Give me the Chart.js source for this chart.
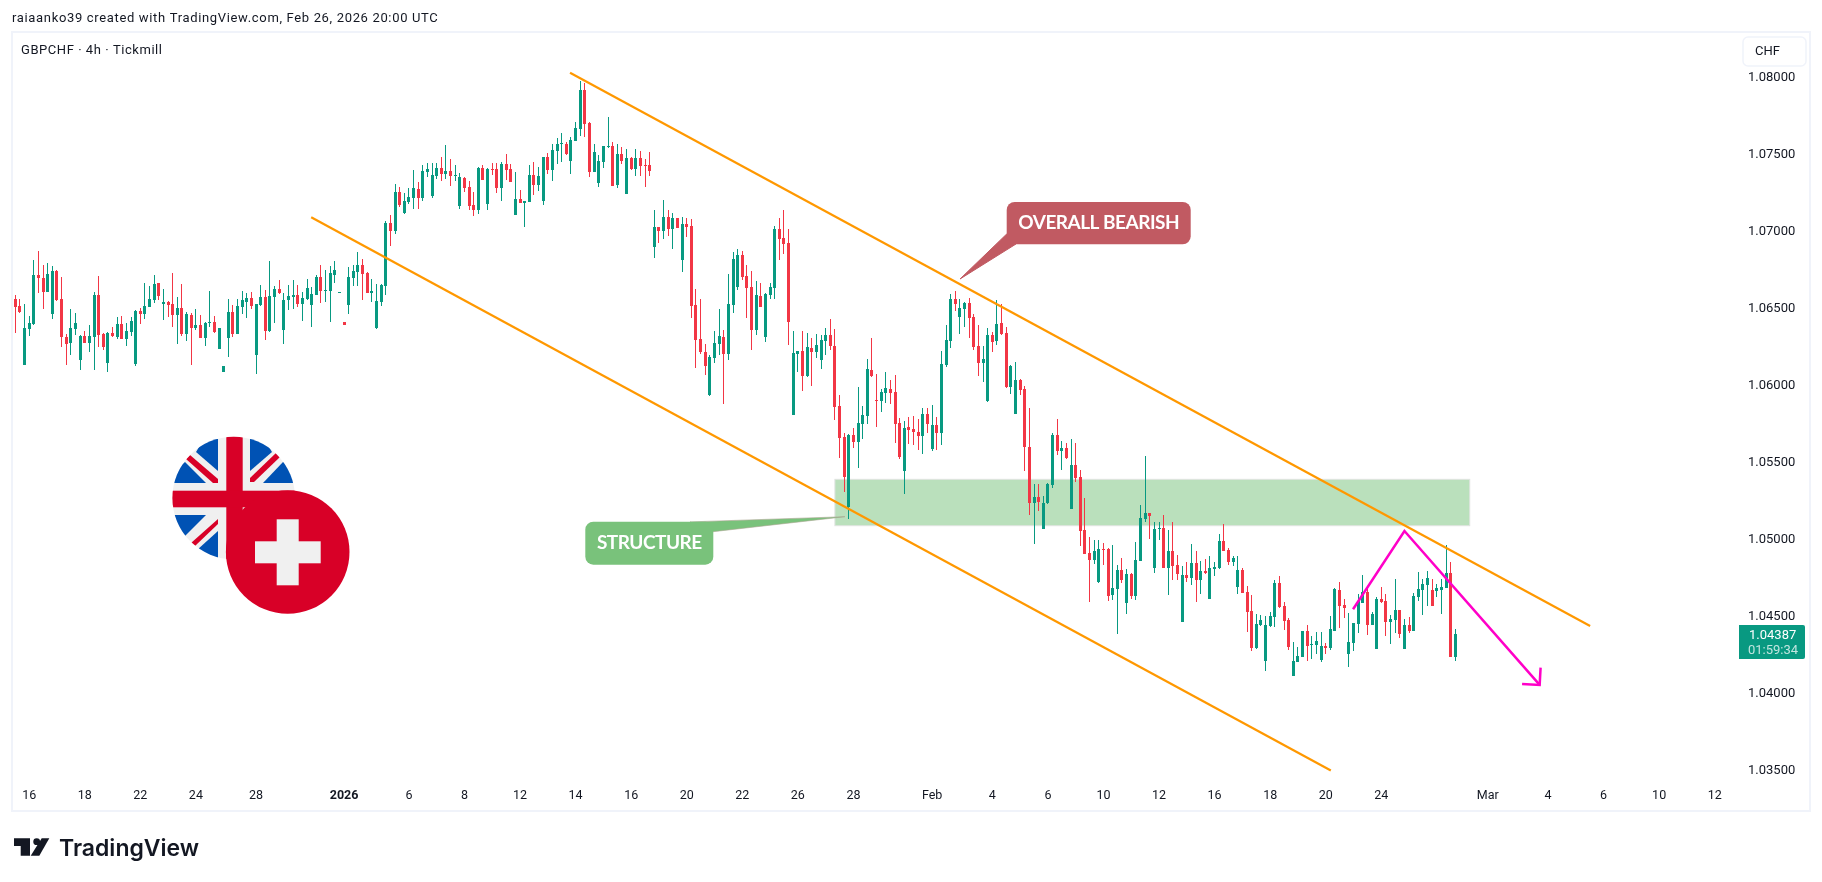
<!DOCTYPE html>
<html>
<head>
<meta charset="utf-8">
<title>GBPCHF 4h</title>
<style>
  html, body { margin: 0; padding: 0; background: #fff; }
  canvas { display: block; }
</style>
<script src="https://cdn.jsdelivr.net/npm/chart.js@4/dist/chart.umd.min.js"></script>
</head>
<body>
<canvas id="chart" width="1822" height="882"></canvas>
<script>
// candles (4h bars, oldest first)
const opens = [
1.06563,1.06518,1.06135,1.06369,1.06401,1.06719,1.06700,1.06609,1.06466,1.06745,
1.06563,1.06317,1.06278,1.06369,1.06168,1.06323,1.06278,1.06317,1.06589,1.06336,
1.06148,1.06343,1.06317,1.06401,1.06304,1.06349,1.06142,1.06486,1.06466,1.06512,
1.06557,1.06667,1.06531,1.06544,1.06531,1.06460,1.06505,1.06336,1.06460,1.06375,
1.06395,1.06310,1.06408,1.06414,1.06239,1.06090,1.06310,1.06479,1.06336,1.06512,
1.06544,1.06570,1.06200,1.06525,1.06576,1.06356,1.06576,1.06628,1.06362,1.06557,
1.06576,1.06589,1.06531,1.06563,1.06525,1.06589,1.06706,1.06615,1.06615,1.06719,
1.06602,1.06414,1.06525,1.06700,1.06739,1.06784,1.06732,1.06602,1.06375,1.06544,
1.06648,1.07057,1.07005,1.07258,1.07121,1.07193,1.07219,1.07277,1.07218,1.07387,
1.07231,1.07361,1.07413,1.07374,1.07394,1.07361,1.07167,1.07348,1.07290,1.07173,
1.07141,1.07413,1.07180,1.07407,1.07407,1.07283,1.07439,1.07407,1.07108,1.07212,
1.07186,1.07193,1.07368,1.07303,1.07199,1.07484,1.07400,1.07523,1.07569,1.07569,
1.07459,1.07588,1.07666,1.07919,1.07705,1.07387,1.07316,1.07452,1.07549,1.07556,
1.07303,1.07504,1.07244,1.07478,1.07407,1.07478,1.07433,1.07433,1.06901,1.07030,
1.07004,1.07095,1.07017,1.07089,1.06816,1.07050,1.07037,1.06524,1.06304,1.06219,
1.05941,1.06180,1.06271,1.06317,1.06206,1.06524,1.06641,1.06849,1.06712,1.06641,
1.06362,1.06583,1.06317,1.06589,1.06635,1.07017,1.06959,1.06927,1.05810,1.06206,
1.06225,1.06063,1.06245,1.06219,1.06167,1.06290,1.06329,1.06258,1.05869,1.05668,
1.05214,1.05681,1.05635,1.05752,1.05804,1.06102,1.05908,1.05901,1.05953,1.05979,
1.05960,1.05759,1.05447,1.05733,1.05720,1.05700,1.05674,1.05817,1.05590,1.05746,
1.05694,1.06135,1.06291,1.06563,1.06446,1.06498,1.06537,1.06446,1.06258,1.06148,
1.05901,1.06329,1.06291,1.06407,1.06343,1.05992,1.05817,1.06038,1.05979,1.05603,
1.05240,1.05279,1.05071,1.05240,1.05356,1.05681,1.05577,1.05596,1.05201,1.05486,
1.05408,1.05064,1.04915,1.04870,1.04727,1.04941,1.04941,1.04643,1.04682,1.04805,
1.04591,1.04779,1.04636,1.04864,1.05136,1.05175,1.04818,1.05071,1.05077,1.04818,
1.04928,1.04837,1.04467,1.04772,1.04753,1.04850,1.04740,1.04798,1.04617,1.04811,
1.04818,1.04993,1.04934,1.04857,1.04695,1.04805,1.04662,1.04539,1.04299,1.04448,
1.04214,1.04441,1.04500,1.04720,1.04571,1.04480,1.04117,1.04208,1.04240,1.04409,
1.04318,1.04318,1.04221,1.04312,1.04299,1.04409,1.04675,1.04578,1.04260,1.04331,
1.04454,1.04591,1.04662,1.04448,1.04292,1.04617,1.04604,1.04467,1.04480,1.04545,
1.04292,1.04448,1.04409,1.04630,1.04675,1.04707,1.04675,1.04668,1.04675,1.04688,
1.04785,1.04240];
const closes = [
1.06512,1.06479,1.06375,1.06408,1.06719,1.06700,1.06609,1.06726,1.06745,1.06557,
1.06317,1.06272,1.06375,1.06408,1.06323,1.06278,1.06323,1.06589,1.06330,1.06252,
1.06343,1.06323,1.06401,1.06304,1.06356,1.06421,1.06486,1.06466,1.06518,1.06563,
1.06661,1.06583,1.06544,1.06525,1.06460,1.06505,1.06336,1.06466,1.06375,1.06395,
1.06310,1.06408,1.06414,1.06349,1.06375,1.06129,1.06479,1.06336,1.06518,1.06557,
1.06570,1.06518,1.06531,1.06576,1.06356,1.06583,1.06628,1.06602,1.06557,1.06583,
1.06589,1.06531,1.06570,1.06635,1.06596,1.06706,1.06615,1.06622,1.06732,1.06752,
1.06609,1.06395,1.06706,1.06745,1.06784,1.06726,1.06602,1.06615,1.06551,1.06654,
1.07057,1.07005,1.07258,1.07173,1.07199,1.07225,1.07284,1.07219,1.07394,1.07407,
1.07368,1.07413,1.07374,1.07394,1.07361,1.07368,1.07355,1.07283,1.07167,1.07141,
1.07413,1.07335,1.07407,1.07400,1.07283,1.07439,1.07400,1.07322,1.07212,1.07186,
1.07199,1.07368,1.07303,1.07361,1.07484,1.07400,1.07530,1.07569,1.07575,1.07504,
1.07595,1.07673,1.07919,1.07699,1.07387,1.07517,1.07459,1.07556,1.07556,1.07296,
1.07504,1.07459,1.07478,1.07407,1.07478,1.07426,1.07426,1.07394,1.07030,1.07004,
1.07095,1.07017,1.07089,1.07024,1.07050,1.07030,1.06518,1.06297,1.06219,1.06128,
1.06187,1.06278,1.06323,1.06206,1.06531,1.06823,1.06849,1.06706,1.06635,1.06362,
1.06589,1.06511,1.06596,1.06641,1.07017,1.06952,1.06920,1.06415,1.06213,1.06225,
1.06063,1.06251,1.06219,1.06264,1.06297,1.06329,1.06258,1.05862,1.05661,1.05408,
1.05681,1.05635,1.05759,1.05811,1.06109,1.06063,1.05901,1.05960,1.05986,1.05953,
1.05752,1.05538,1.05726,1.05713,1.05700,1.05674,1.05817,1.05752,1.05746,1.05694,
1.06141,1.06297,1.06563,1.06531,1.06505,1.06537,1.06440,1.06252,1.06148,1.06174,
1.06329,1.06284,1.06401,1.06336,1.05992,1.06128,1.06038,1.05973,1.05603,1.05240,
1.05279,1.05246,1.05240,1.05363,1.05681,1.05577,1.05596,1.05531,1.05486,1.05402,
1.05058,1.04909,1.04870,1.04928,1.04941,1.04935,1.04636,1.04688,1.04805,1.04740,
1.04779,1.04636,1.04870,1.05142,1.05175,1.05155,1.05071,1.05077,1.04818,1.04928,
1.04831,1.04779,1.04772,1.04753,1.04850,1.04740,1.04798,1.04785,1.04818,1.04824,
1.04993,1.04928,1.04857,1.04883,1.04805,1.04656,1.04532,1.04299,1.04454,1.04480,
1.04448,1.04506,1.04720,1.04565,1.04474,1.04305,1.04214,1.04247,1.04409,1.04312,
1.04325,1.04344,1.04312,1.04299,1.04422,1.04681,1.04571,1.04558,1.04337,1.04461,
1.04604,1.04662,1.04448,1.04519,1.04617,1.04597,1.04467,1.04487,1.04545,1.04389,
1.04448,1.04409,1.04636,1.04681,1.04714,1.04753,1.04571,1.04688,1.04694,1.04785,
1.04240,1.04387];
const highs = [
1.06589,1.06563,1.06531,1.06453,1.06817,1.06875,1.06784,1.06797,1.06778,1.06752,
1.06706,1.06336,1.06499,1.06473,1.06330,1.06356,1.06395,1.06609,1.06713,1.06343,
1.06349,1.06382,1.06447,1.06453,1.06408,1.06447,1.06492,1.06505,1.06667,1.06648,
1.06719,1.06667,1.06628,1.06551,1.06732,1.06576,1.06661,1.06479,1.06473,1.06499,
1.06460,1.06414,1.06615,1.06453,1.06375,1.06129,1.06563,1.06525,1.06563,1.06615,
1.06602,1.06609,1.06531,1.06654,1.06622,1.06810,1.06648,1.06687,1.06602,1.06654,
1.06687,1.06654,1.06609,1.06693,1.06641,1.06719,1.06784,1.06752,1.06778,1.06810,
1.06609,1.06414,1.06771,1.06784,1.06868,1.06823,1.06739,1.06693,1.06661,1.06661,
1.07070,1.07108,1.07308,1.07290,1.07251,1.07284,1.07401,1.07323,1.07433,1.07446,
1.07446,1.07446,1.07484,1.07562,1.07471,1.07433,1.07381,1.07355,1.07329,1.07257,
1.07420,1.07433,1.07413,1.07446,1.07446,1.07452,1.07504,1.07439,1.07387,1.07270,
1.07199,1.07433,1.07452,1.07420,1.07484,1.07510,1.07569,1.07608,1.07640,1.07582,
1.07614,1.07712,1.07978,1.07965,1.07712,1.07569,1.07497,1.07556,1.07744,1.07582,
1.07569,1.07549,1.07536,1.07484,1.07536,1.07523,1.07471,1.07517,1.07141,1.07030,
1.07205,1.07141,1.07121,1.07089,1.07095,1.07089,1.07082,1.06628,1.06563,1.06271,
1.06200,1.06356,1.06498,1.06362,1.06725,1.06868,1.06888,1.06875,1.06784,1.06745,
1.06680,1.06667,1.06602,1.06667,1.07037,1.07089,1.07141,1.07017,1.06356,1.06225,
1.06355,1.06342,1.06310,1.06336,1.06329,1.06375,1.06433,1.06368,1.05940,1.05694,
1.05687,1.05726,1.05992,1.05869,1.06174,1.06310,1.06077,1.05979,1.06089,1.06038,
1.06070,1.05791,1.05771,1.05798,1.05804,1.05785,1.05856,1.05856,1.05875,1.05798,
1.06226,1.06394,1.06596,1.06615,1.06563,1.06544,1.06570,1.06466,1.06394,1.06258,
1.06375,1.06349,1.06557,1.06531,1.06381,1.06135,1.06154,1.06044,1.05999,1.05856,
1.05363,1.05363,1.05285,1.05369,1.05694,1.05785,1.05642,1.05629,1.05655,1.05629,
1.05454,1.05272,1.05019,1.05000,1.05000,1.04980,1.04948,1.04967,1.04837,1.04883,
1.04811,1.04785,1.04987,1.05227,1.05544,1.05175,1.05116,1.05116,1.05162,1.05064,
1.05116,1.04902,1.04831,1.04857,1.04973,1.04928,1.04863,1.04876,1.04896,1.04857,
1.05038,1.05103,1.04947,1.04896,1.04896,1.04818,1.04701,1.04642,1.04519,1.04513,
1.04506,1.04532,1.04740,1.04766,1.04597,1.04493,1.04337,1.04305,1.04409,1.04448,
1.04376,1.04402,1.04402,1.04331,1.04506,1.04688,1.04727,1.04617,1.04526,1.04461,
1.04649,1.04772,1.04688,1.04532,1.04630,1.04695,1.04649,1.04513,1.04746,1.04545,
1.04487,1.04500,1.04655,1.04792,1.04746,1.04798,1.04746,1.04714,1.04746,1.04967,
1.04859,1.04422];
const lows = [
1.06345,1.06475,1.06135,1.06326,1.06395,1.06602,1.06499,1.06609,1.06434,1.06551,
1.06252,1.06135,1.06200,1.06330,1.06103,1.06278,1.06220,1.06103,1.06252,1.06233,
1.06090,1.06317,1.06304,1.06304,1.06259,1.06323,1.06129,1.06401,1.06434,1.06512,
1.06538,1.06557,1.06427,1.06447,1.06382,1.06272,1.06323,1.06291,1.06135,1.06362,
1.06310,1.06259,1.06382,1.06343,1.06239,1.06090,1.06187,1.06317,1.06336,1.06466,
1.06440,1.06499,1.06077,1.06518,1.06297,1.06349,1.06408,1.06598,1.06272,1.06492,
1.06499,1.06512,1.06421,1.06557,1.06382,1.06589,1.06538,1.06544,1.06414,1.06667,
1.06602,1.06395,1.06466,1.06648,1.06648,1.06557,1.06602,1.06544,1.06369,1.06518,
1.06589,1.06907,1.06985,1.07161,1.07115,1.07180,1.07148,1.07148,1.07199,1.07355,
1.07218,1.07342,1.07329,1.07342,1.07296,1.07329,1.07147,1.07257,1.07141,1.07102,
1.07115,1.07335,1.07141,1.07368,1.07251,1.07199,1.07335,1.07322,1.07108,1.07186,
1.07030,1.07193,1.07238,1.07264,1.07173,1.07374,1.07329,1.07439,1.07452,1.07497,
1.07374,1.07588,1.07621,1.07614,1.07355,1.07387,1.07290,1.07413,1.07543,1.07296,
1.07283,1.07439,1.07244,1.07400,1.07361,1.07361,1.07290,1.07361,1.06829,1.06926,
1.06952,1.06972,1.06888,1.07024,1.06738,1.06965,1.06440,1.06115,1.06206,1.06070,
1.05935,1.06148,1.06200,1.05881,1.06167,1.06472,1.06622,1.06687,1.06440,1.06232,
1.06330,1.06511,1.06284,1.06563,1.06563,1.06816,1.06855,1.06266,1.05810,1.06089,
1.05966,1.06057,1.06000,1.06180,1.06109,1.06200,1.06232,1.05778,1.05531,1.05311,
1.05136,1.05596,1.05467,1.05655,1.05752,1.06057,1.05733,1.05830,1.05888,1.05882,
1.05629,1.05525,1.05298,1.05622,1.05616,1.05583,1.05557,1.05694,1.05577,1.05583,
1.05616,1.06122,1.06245,1.06485,1.06336,1.06381,1.06310,1.06232,1.06064,1.06025,
1.05895,1.06219,1.06265,1.06329,1.05986,1.05947,1.05817,1.05940,1.05447,1.05162,
1.04973,1.05188,1.05071,1.05233,1.05337,1.05551,1.05454,1.05525,1.05201,1.05376,
1.04961,1.04909,1.04597,1.04844,1.04721,1.04837,1.04604,1.04610,1.04390,1.04721,
1.04519,1.04617,1.04610,1.04864,1.05116,1.05006,1.04785,1.05000,1.04818,1.04643,
1.04740,1.04740,1.04467,1.04727,1.04707,1.04597,1.04649,1.04779,1.04617,1.04766,
1.04811,1.04928,1.04837,1.04831,1.04649,1.04656,1.04402,1.04279,1.04292,1.04441,
1.04149,1.04435,1.04435,1.04558,1.04415,1.04286,1.04117,1.04208,1.04240,1.04214,
1.04227,1.04260,1.04208,1.04260,1.04286,1.04409,1.04428,1.04493,1.04175,1.04279,
1.04396,1.04591,1.04383,1.04448,1.04292,1.04591,1.04376,1.04324,1.04396,1.04363,
1.04292,1.04396,1.04409,1.04604,1.04513,1.04571,1.04571,1.04630,1.04519,1.04688,
1.04240,1.04214];

// axis ticks
const priceTicks = [1.035, 1.04, 1.045, 1.05, 1.055, 1.06, 1.065, 1.07, 1.075, 1.08];
const dateTicks = [3, 15, 27, 39, 52, 71, 85, 97, 109, 121, 133, 145, 157, 169, 181, 198, 211, 223, 235, 247, 259, 271, 283, 295, 318, 331, 343, 355, 367];
const dateLabels = ["16", "18", "22", "24", "28", "2026", "6", "8", "12", "14", "16", "20", "22", "26", "28", "Feb", "4", "6", "10", "12", "16", "18", "20", "24", "Mar", "4", "6", "10", "12"];

// drawings, in bar index / price
const channelUpper = [[119.8, 1.08031], [340.1, 1.04441]];
const channelLower = [[63.9, 1.07093], [284.1, 1.03504]];
const pathZigzag = [[288.9, 1.0455], [300.0, 1.05058], [329.2, 1.04059]];
const arrowHead = [[329.4, 1.04171], [329.2, 1.04059], [325.4, 1.04065]];
const zoneBars = [177.0, 314.1];
const zonePrices = [1.05393, 1.05092];

const GREEN = "#089981";
const RED = "#f23645";
const ORANGE = "#ff9800";
const MAGENTA = "#ff00c8";
const TEXT = "#131722";
const FONT = "Roboto, sans-serif";

const candleColor = (ctx) => (closes[ctx.dataIndex] >= opens[ctx.dataIndex] ? GREEN : RED);
const toPoints = (pts) => pts.map((p) => ({ x: p[0], y: p[1] }));

function drawingLine(points, color, width) {
  return {
    type: "line",
    data: toPoints(points),
    borderColor: color,
    borderWidth: width,
    pointRadius: 0,
    tension: 0,
    order: 0,
  };
}

function roundRect(c, x, y, w, h, r) {
  c.beginPath();
  c.roundRect(x, y, w, h, r);
}

function poly(c, pts, color) {
  c.fillStyle = color;
  c.beginPath();
  pts.forEach((p, i) => (i ? c.lineTo(p[0], p[1]) : c.moveTo(p[0], p[1])));
  c.closePath();
  c.fill();
}

// speech bubble labels
function callout(c, box, tail, color, edge, label, fontSize) {
  c.save();
  c.fillStyle = color;
  c.strokeStyle = edge;
  c.lineWidth = 1;
  c.beginPath();
  c.moveTo(tail[0][0], tail[0][1]);
  c.lineTo(tail[1][0], tail[1][1]);
  c.lineTo(tail[2][0], tail[2][1]);
  c.closePath();
  c.fill();
  c.stroke();
  roundRect(c, box[0], box[1], box[2], box[3], 8);
  c.fill();
  c.fillStyle = "#fff";
  c.font = "bold " + fontSize + "px Lato, sans-serif";
  c.letterSpacing = "-0.5px";
  c.textAlign = "center";
  c.textBaseline = "middle";
  c.fillText(label, box[0] + box[2] / 2, box[1] + box[3] / 2 - 0.5);
  c.restore();
}

function drawFlags(c) {
  const white = "#f0f0f0", red = "#d80027", blue = "#0052b4";
  // UK
  c.save();
  c.beginPath();
  c.arc(233.7, 498, 61.3, 0, Math.PI * 2);
  c.clip();
  c.fillStyle = white;
  c.fillRect(170, 435, 128, 128);
  poly(c, [[218, 439], [218, 471], [196, 452], [205, 437]], blue);
  poly(c, [[250, 439], [250, 471], [272, 452], [263, 437]], blue);
  poly(c, [[172, 483], [206, 483], [185, 462], [176, 470]], blue);
  poly(c, [[263, 483], [297, 483], [288, 462], [283, 462]], blue);
  poly(c, [[172, 515], [206, 515], [185, 536], [176, 526]], blue);
  poly(c, [[197, 550], [218, 531], [218, 560], [205, 557]], blue);
  poly(c, [[250, 531], [285, 531], [285, 560], [250, 560]], blue);
  poly(c, [[190, 455], [218, 479], [218, 483], [213, 483], [186, 459]], red);
  poly(c, [[277, 452], [250, 478], [250, 482], [254, 482], [280, 457]], red);
  poly(c, [[191, 543], [218, 519], [218, 524], [195, 546]], red);
  c.fillStyle = red;
  c.fillRect(226.3, 430, 16.4, 136);
  c.fillRect(165, 490.7, 136, 16.6);
  c.restore();
  // Switzerland
  c.fillStyle = red;
  c.beginPath();
  c.arc(287.7, 552, 61.8, 0, Math.PI * 2);
  c.fill();
  c.fillStyle = white;
  c.fillRect(276.7, 519.3, 22, 66);
  c.fillRect(255, 541.3, 65.7, 22);
}

function drawLogo(c) {
  c.save();
  poly(c, [[14, 838.3], [30, 838.3], [30, 855.7], [20.7, 855.7], [20.7, 846], [14, 846]], TEXT);
  c.fillStyle = TEXT;
  c.beginPath();
  c.arc(36.7, 841.7, 3.4, 0, Math.PI * 2);
  c.fill();
  poly(c, [[41.7, 838.3], [49.3, 838.3], [39.3, 855.7], [30.7, 855.7]], TEXT);
  c.font = "600 23px Inter, sans-serif";
  c.textAlign = "left";
  c.textBaseline = "alphabetic";
  c.fillText("TradingView", 59, 855.5);
  c.restore();
}

const tvDecor = {
  id: "tvDecor",
  // snap bars to whole pixels like the platform does
  afterDatasetsUpdate(chart) {
    chart.data.datasets.forEach((ds, i) => {
      if (ds.type === "line") return;
      chart.getDatasetMeta(i).data.forEach((el) => {
        el.x = Math.floor(el.x) + 0.5;
        const a = Math.round(el.y), b = Math.round(el.base);
        el.y = a;
        el.base = a === b ? a + 1 : b;
        el.height = Math.abs(el.base - el.y);
      });
    });
  },
  beforeDraw(chart) {
    const c = chart.ctx;
    c.save();
    c.fillStyle = "#fff";
    c.fillRect(0, 0, 1822, 882);
    c.strokeStyle = "#f0f3fa";
    c.lineWidth = 2;
    c.strokeRect(12, 32, 1798, 779);
    c.fillStyle = TEXT;
    c.textBaseline = "middle";
    c.font = "13px " + FONT;
    c.letterSpacing = "0.66px";
    c.fillText("raiaanko39 created with TradingView.com, Feb 26, 2026 20:00 UTC", 12, 18.5);
    c.letterSpacing = "0.55px";
    c.fillText("GBPCHF · 4h · Tickmill", 21, 50.5);
    c.restore();
  },
  beforeDatasetsDraw(chart) {
    const c = chart.ctx, xs = chart.scales.x, ys = chart.scales.y;
    const x0 = xs.getPixelForValue(zoneBars[0]), x1 = xs.getPixelForValue(zoneBars[1]);
    const y0 = ys.getPixelForValue(zonePrices[0]), y1 = ys.getPixelForValue(zonePrices[1]);
    c.save();
    c.fillStyle = "#bae0bc";
    c.strokeStyle = "#e0e3e0";
    c.lineWidth = 1;
    c.fillRect(x0, y0, x1 - x0, y1 - y0);
    c.strokeRect(x0, y0, x1 - x0, y1 - y0);
    c.restore();
  },
  afterDatasetsDraw(chart) {
    const c = chart.ctx;
    drawFlags(c);
    callout(c, [1006.7, 202, 184, 42.3], [[1006.7, 234], [960, 279], [1016, 244]], "#c15a62", "#c15a62", "OVERALL BEARISH", 19);
    callout(c, [585.3, 521.7, 128, 43], [[690, 521.9], [845, 516.7], [713, 531.7]], "#79c27b", "rgba(170,165,145,0.6)", "STRUCTURE", 19);
  },
  afterDraw(chart) {
    const c = chart.ctx;
    c.save();
    // currency button
    c.strokeStyle = "#f0f3fa";
    c.lineWidth = 1.5;
    roundRect(c, 1743, 37, 63, 29, 5);
    c.stroke();
    c.fillStyle = TEXT;
    c.font = "13px " + FONT;
    c.textBaseline = "middle";
    c.fillText("CHF", 1755, 52);
    // last price tag
    c.fillStyle = GREEN;
    roundRect(c, 1739, 625, 66, 34, [0, 2, 2, 0]);
    c.fill();
    c.font = "13px " + FONT;
    c.fillStyle = "#fff";
    c.fillText(closes[closes.length - 1].toFixed(5), 1749, 635.5);
    c.fillStyle = "rgba(255,255,255,0.75)";
    c.fillText("01:59:34", 1748, 650.5);
    c.restore();
    drawLogo(c);
  },
};

const bars = opens.map((_, i) => i);

new Chart(document.getElementById("chart"), {
  type: "bar",
  data: {
    datasets: [
      drawingLine(channelUpper, ORANGE, 2.2),
      drawingLine(channelLower, ORANGE, 2.2),
      drawingLine(pathZigzag, MAGENTA, 2.5),
      drawingLine(arrowHead, MAGENTA, 2.5),
      {
        label: "wick",
        data: bars.map((i) => ({ x: i, y: [lows[i], highs[i]] })),
        backgroundColor: candleColor,
        barThickness: 1,
        grouped: false,
        inflateAmount: 0,
        order: 2,
      },
      {
        label: "body",
        data: bars.map((i) => ({ x: i, y: [opens[i], closes[i]] })),
        backgroundColor: candleColor,
        barThickness: 3,
        grouped: false,
        inflateAmount: 0,
        order: 1,
      },
    ],
  },
  options: {
    responsive: false,
    animation: false,
    events: [],
    layout: { padding: { left: 13, top: 33, right: 12, bottom: 71 } },
    plugins: { legend: { display: false }, tooltip: { enabled: false } },
    scales: {
      x: {
        type: "linear",
        offset: false,
        min: -0.497,
        max: 371.6,
        grid: { display: false, drawTicks: false },
        border: { display: false },
        afterBuildTicks: (s) => { s.ticks = dateTicks.map((v) => ({ value: v })); },
        afterFit: (s) => { s.height = 33; },
        ticks: {
          autoSkip: false,
          maxRotation: 0,
          padding: 10,
          color: TEXT,
          font: (ctx) => ({ family: FONT, size: 12.5, weight: dateLabels[ctx.index] === "2026" ? "bold" : "normal" }),
          callback: (v, i) => dateLabels[i],
        },
      },
      y: {
        position: "right",
        min: 1.03455,
        max: 1.08289,
        grid: { display: false, drawTicks: false },
        border: { display: false },
        afterBuildTicks: (s) => { s.ticks = priceTicks.map((v) => ({ value: v })); },
        afterFit: (s) => { s.width = 74; },
        ticks: {
          padding: 12,
          color: TEXT,
          font: { family: FONT, size: 13 },
          callback: (v) => v.toFixed(5),
        },
      },
    },
  },
  plugins: [tvDecor],
});
</script>
</body>
</html>
